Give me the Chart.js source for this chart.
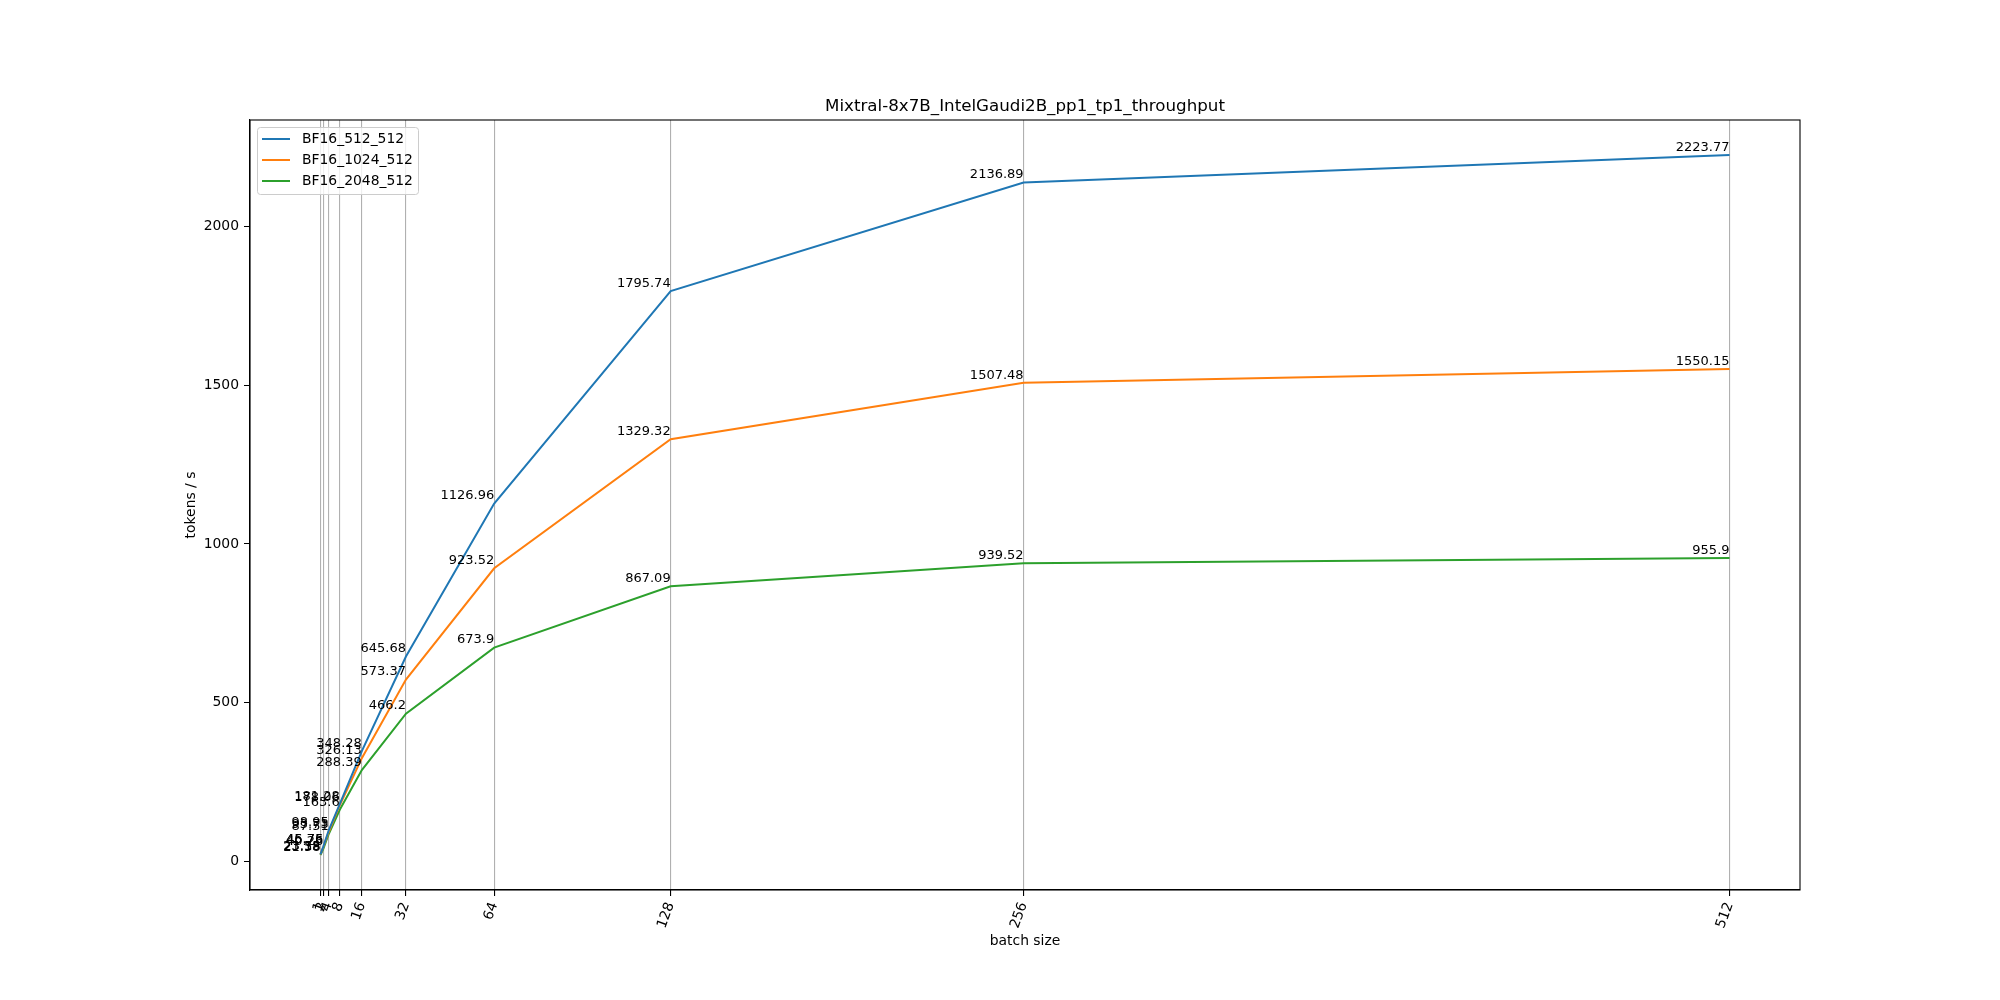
<!DOCTYPE html>
<html>
<head>
<meta charset="utf-8">
<script src="https://cdn.jsdelivr.net/npm/chart.js@4"></script>
<style>
    html, body { margin: 0; padding: 0; background: #ffffff; }
    #grafico { display: block; }
</style>
</head>
<body>
<canvas id="grafico" width="2000" height="1000"></canvas>
<script>
const batchSizes = [1, 2, 4, 8, 16, 32, 64, 128, 256, 512];
const bf16_512_512 = [23.58, 46.76, 98.95, 181.28, 348.28, 645.68, 1126.96, 1795.74, 2136.89, 2223.77];
const bf16_1024_512 = [23.15, 45.75, 93.73, 178.06, 326.13, 573.37, 923.52, 1329.32, 1507.48, 1550.15];
const bf16_2048_512 = [21.38, 40.26, 87.51, 163.6, 288.39, 466.2, 673.9, 867.09, 939.52, 955.9];
const seriesNames = ["BF16_512_512", "BF16_1024_512", "BF16_2048_512"];
const yTicks = [0, 500, 1000, 1500, 2000];

const chartTitle = "Mixtral-8x7B_IntelGaudi2B_pp1_tp1_throughput";
const cores = ["#1f77b4", "#ff7f0e", "#2ca02c"];
const fonte = "'DejaVu Sans', sans-serif";

// margens automáticas de 5% como no matplotlib
const todos = bf16_512_512.concat(bf16_1024_512, bf16_2048_512);
const yMinDado = Math.min(...todos), yMaxDado = Math.max(...todos);
const xMinDado = Math.min(...batchSizes), xMaxDado = Math.max(...batchSizes);
const yMargem = (yMaxDado - yMinDado) * 0.05;
const xMargem = (xMaxDado - xMinDado) * 0.05;

const serie = (valores) => batchSizes.map((b, i) => ({ x: b, y: valores[i] }));

const extras = {
    id: "extras",
    afterDatasetsDraw(chart) {
        const ctx = chart.ctx;
        ctx.save();
        ctx.font = "13px " + fonte;
        ctx.fillStyle = "#000";
        ctx.textAlign = "right";
        ctx.textBaseline = "bottom";
        chart.data.datasets.forEach((ds, i) => {
            chart.getDatasetMeta(i).data.forEach((pt, j) => {
                ctx.fillText(String(ds.data[j].y), pt.x, pt.y - 1);
            });
        });
        ctx.restore();
    },
    afterDraw(chart) {
        const ctx = chart.ctx;
        const a = chart.chartArea;
        ctx.save();

        // moldura
        ctx.strokeStyle = "#000";
        ctx.lineWidth = 1.1;
        ctx.strokeRect(a.left, a.top, a.right - a.left, a.bottom - a.top);

        // títulos
        ctx.fillStyle = "#000";
        ctx.textAlign = "center";
        ctx.textBaseline = "middle";
        ctx.font = "16.7px " + fonte;
        ctx.fillText(chartTitle, (a.left + a.right) / 2, 107);
        ctx.font = "13.9px " + fonte;
        ctx.fillText("batch size", (a.left + a.right) / 2, 941);
        ctx.translate(191, (a.top + a.bottom) / 2);
        ctx.rotate(-Math.PI / 2);
        ctx.fillText("tokens / s", 0, 0);
        ctx.restore();

        // legenda
        ctx.save();
        const lx = a.left + 7, ly = a.top + 7, lw = 161, lh = 67;
        ctx.fillStyle = "rgba(255,255,255,0.8)";
        ctx.strokeStyle = "#cccccc";
        ctx.lineWidth = 1;
        ctx.beginPath();
        ctx.roundRect(lx + 0.5, ly + 0.5, lw, lh, 3);
        ctx.fill();
        ctx.stroke();
        ctx.font = "13.9px " + fonte;
        ctx.textAlign = "left";
        ctx.textBaseline = "middle";
        seriesNames.forEach((nome, i) => {
            const y = ly + 12 + i * 21;
            ctx.strokeStyle = cores[i];
            ctx.lineWidth = 2;
            ctx.beginPath();
            ctx.moveTo(lx + 5, y);
            ctx.lineTo(lx + 33, y);
            ctx.stroke();
            ctx.fillStyle = "#000";
            ctx.fillText(nome, lx + 45, y);
        });
        ctx.restore();
    }
};

new Chart(document.getElementById("grafico"), {
    type: "line",
    data: {
        datasets: [
            { label: seriesNames[0], data: serie(bf16_512_512) },
            { label: seriesNames[1], data: serie(bf16_1024_512) },
            { label: seriesNames[2], data: serie(bf16_2048_512) }
        ].map((ds, i) => Object.assign(ds, {
            borderColor: cores[i],
            backgroundColor: cores[i],
            borderWidth: 2,
            pointRadius: 0,
            tension: 0,
            fill: false
        }))
    },
    options: {
        responsive: false,
        animation: false,
        devicePixelRatio: 1,
        layout: {
            padding: { top: 120, right: 200, bottom: 0, left: 0 }
        },
        plugins: {
            legend: { display: false },
            title: { display: false },
            tooltip: { enabled: false }
        },
        scales: {
            x: {
                type: "linear",
                min: xMinDado - xMargem,
                max: xMaxDado + xMargem,
                afterBuildTicks: (scale) => {
                    scale.ticks = batchSizes.map(v => ({ value: v }));
                },
                afterFit: (scale) => { scale.height = 110; },
                ticks: {
                    color: "#000",
                    font: { family: fonte, size: 13.9 },
                    minRotation: 70,
                    maxRotation: 70,
                    padding: 4,
                    autoSkip: false,
                    callback: (v) => String(v)
                },
                grid: {
                    color: "#b0b0b0",
                    lineWidth: 1.1,
                    tickColor: "#000",
                    tickLength: 6
                },
                border: { color: "#000", width: 1.1 }
            },
            y: {
                type: "linear",
                min: yMinDado - yMargem,
                max: yMaxDado + yMargem,
                afterBuildTicks: (scale) => {
                    scale.ticks = yTicks.map(v => ({ value: v }));
                },
                afterFit: (scale) => { scale.width = 250; },
                ticks: {
                    color: "#000",
                    font: { family: fonte, size: 13.9 },
                    padding: 5,
                    callback: (v) => String(v)
                },
                grid: {
                    drawOnChartArea: false,
                    tickColor: "#000",
                    tickLength: 6
                },
                border: { color: "#000", width: 1.1 }
            }
        }
    },
    plugins: [extras]
});
</script>
</body>
</html>
